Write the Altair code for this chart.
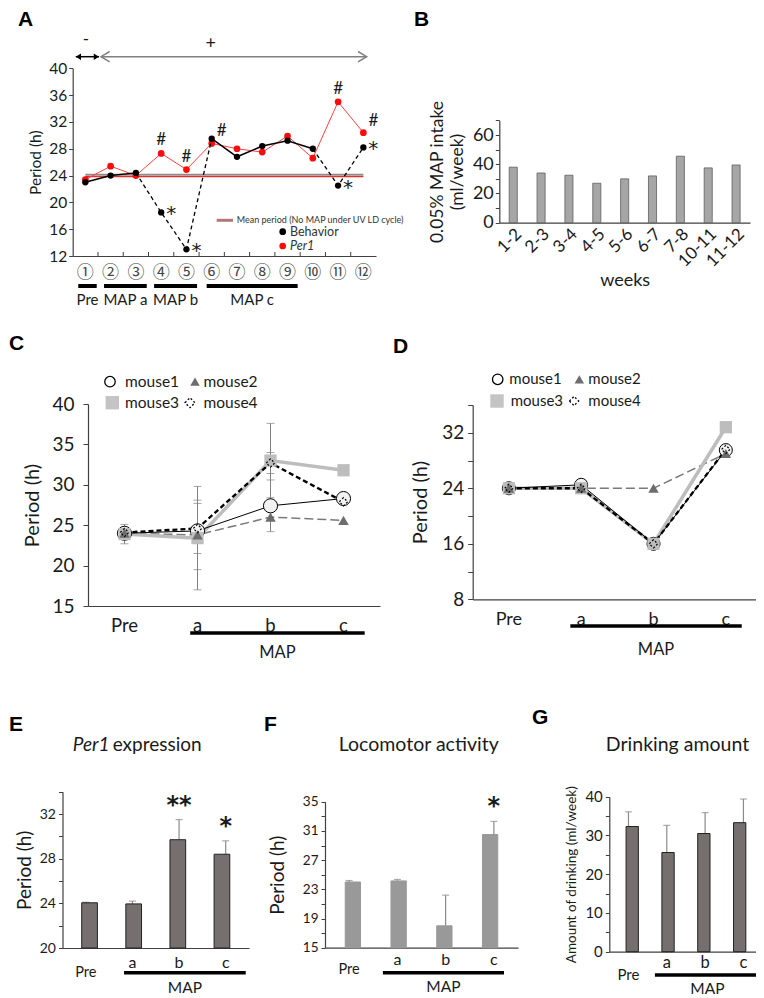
import altair as alt
import pandas as pd

W, H = 748, 990
FONT = "Lato"
INK = "#1a1a1a"

# ---------------- Panel A data ----------------
a_weeks = list(range(1, 13))
a_circled = ["①", "②", "③", "④", "⑤", "⑥", "⑦", "⑧", "⑨", "⑩", "⑪", "⑫"]
a_behavior = [23.0, 24.0, 24.4, 18.5, 13.0, 29.5, 26.8, 28.4, 29.2, 28.0, 22.5, 28.2]
a_per1 = [23.4, 25.4, 24.0, 27.3, 24.9, 28.8, 28.0, 27.5, 29.9, 26.6, 35.0, 30.4]
a_mean_period = 24.0
a_groups = ["Pre", "MAP a", "MAP b", "MAP c"]
a_group_from = [0.72, 1.74, 3.72, 5.80]
a_group_to = [1.45, 3.43, 5.42, 9.40]
a_hash_top = [4, 5, 11]
a_hash_side = [6, 12]
a_star = [4, 5, 11, 12]
a_solid_segments = [(1, 3), (6, 10)]
a_dashed_segments = [(3, 6), (10, 12)]

# ---------------- Panel B data ----------------
b_weeks = ["1-2", "2-3", "3-4", "4-5", "5-6", "6-7", "7-8", "10-11", "11-12"]
b_intake = [38.0, 34.0, 32.5, 27.0, 30.0, 32.0, 45.5, 37.5, 39.5]

# ---------------- Panels C / D data ----------------
stages = ["Pre", "a", "b", "c"]
mice = ["mouse1", "mouse2", "mouse3", "mouse4"]
c_mouse1 = [24.0, 24.3, 27.4, 28.3]
c_mouse2 = [24.0, 23.8, 26.0, 25.6]
c_mouse3 = [23.9, 23.4, 33.0, 31.8]
c_mouse4 = [24.1, 24.6, 32.7, 27.9]
c_err1 = [0.0, 0.0, 3.2, 0.0]
c_err2 = [0.0, 4.3, 0.0, 0.0]
c_err3 = [1.2, 6.4, 4.6, 0.0]
c_err4 = [0.0, 3.1, 1.3, 0.0]

d_mouse1 = [24.0, 24.5, 16.0, 29.5]
d_mouse2 = [24.0, 24.0, 24.0, 29.0]
d_mouse3 = [24.0, 24.0, 16.0, 32.8]
d_mouse4 = [24.0, 24.0, 16.0, 29.6]

# ---------------- Panels E / F / G data ----------------
e_mean = [24.05, 23.95, 29.7, 28.4]
e_err = [0.05, 0.25, 1.8, 1.2]
e_sig = ["", "", "**", "*"]
f_mean = [24.0, 24.15, 18.0, 30.5]
f_err = [0.2, 0.2, 4.2, 1.8]
f_sig = ["", "", "", "*"]
g_mean = [32.3, 25.6, 30.5, 33.3]
g_err = [3.8, 7.0, 5.4, 6.1]
g_sig = ["", "", "", ""]


# ---------------- helpers ----------------
def sc(dom, rng):
    return alt.Scale(domain=dom, range=rng, zero=False, nice=False)


def yaxis(xpos, values, size, title, tsize, every=None, base=0, tick=4, lpad=3, tpad=6):
    kw = dict(orient="left", offset=-xpos, values=values, labelFontSize=size,
              title=title, titleFontSize=tsize, tickSize=tick, labelPadding=lpad,
              titlePadding=tpad, labelOverlap=False)
    if every:
        kw["labelExpr"] = f"(datum.value - {base}) % {every} == 0 ? datum.label : ''"
    return alt.Axis(**kw)


def xaxis(ypos):
    return alt.Axis(orient="bottom", offset=ypos - H, ticks=False, labels=False, title=None)


one = pd.DataFrame({"k": [0]})


def label(s, x, y, size, **kw):
    kw.setdefault("font", FONT)
    kw.setdefault("color", INK)
    return alt.Chart(one).mark_text(text=s, fontSize=size, **kw).encode(
        x=alt.value(x), y=alt.value(y))


layers = []

# ======================= Panel A =======================
sxA = sc([0.5, 12.5], [64.7, 368])
syA = sc([12, 40], [248, 60.3])
dfA = pd.DataFrame({"wk": a_weeks, "beh": a_behavior, "per1": a_per1, "num": a_circled})


def xA(f="wk"):
    return alt.X(f"{f}:Q", scale=sxA, axis=None)


def yA(f):
    return alt.Y(f"{f}:Q", scale=syA, axis=None)


tickA = pd.DataFrame({"t": [w + 0.5 for w in a_weeks[:-1]], "y0": [12.0] * 11})
layers.append(alt.Chart(tickA).mark_rule(color="#404040").encode(
    x=alt.X("t:Q", scale=sxA, axis=xaxis(248)),
    y=alt.Y("y0:Q", scale=syA,
            axis=yaxis(64.7, list(range(12, 41, 4)), 15.5, "Period (h)", 15.5, lpad=2, tpad=5)),
    y2=alt.datum(12.6)))

meanA = pd.DataFrame({"x1": [1], "x2": [12], "m": [a_mean_period]})
layers.append(alt.Chart(meanA).mark_rule(color="#8c8c8c", strokeWidth=1.6, yOffset=-0.9).encode(
    x=alt.X("x1:Q", scale=sxA, axis=None), x2="x2:Q", y=yA("m")))
layers.append(alt.Chart(meanA).mark_rule(color="#e0302a", strokeWidth=1.6, yOffset=0.9).encode(
    x=alt.X("x1:Q", scale=sxA, axis=None), x2="x2:Q", y=yA("m")))

layers.append(alt.Chart(dfA).mark_line(color="#ff4040", strokeWidth=1).encode(x=xA(), y=yA("per1")))
layers.append(alt.Chart(dfA).mark_circle(color="#ff0a0a", size=45, opacity=1).encode(x=xA(), y=yA("per1")))


def seg_rows(segs):
    rows = []
    for k, (s, e) in enumerate(segs):
        for w in range(s, e + 1):
            rows.append({"seg": k, "wk": w, "beh": a_behavior[w - 1]})
    return pd.DataFrame(rows)


layers.append(alt.Chart(seg_rows(a_solid_segments)).mark_line(color="black", strokeWidth=1.5).encode(
    x=xA(), y=yA("beh"), detail="seg:N"))
layers.append(alt.Chart(seg_rows(a_dashed_segments)).mark_line(
    color="black", strokeWidth=1.3, strokeDash=[4, 3]).encode(x=xA(), y=yA("beh"), detail="seg:N"))
layers.append(alt.Chart(dfA).mark_circle(color="black", size=40, opacity=1).encode(x=xA(), y=yA("beh")))

layers.append(alt.Chart(dfA[dfA.wk.isin(a_hash_top)]).mark_text(
    text="#", fontSize=17, dy=-13, font=FONT, color=INK).encode(x=xA(), y=yA("per1")))
layers.append(alt.Chart(dfA[dfA.wk.isin(a_hash_side)]).mark_text(
    text="#", fontSize=17, dx=10, dy=-12, font=FONT, color=INK).encode(x=xA(), y=yA("per1")))
layers.append(alt.Chart(dfA[dfA.wk.isin(a_star)]).mark_text(
    text="*", fontSize=20, dx=10, dy=2, font="DejaVu Sans", color=INK).encode(x=xA(), y=yA("beh")))

layers.append(alt.Chart(dfA).mark_text(font="Noto Sans CJK JP", fontSize=17, color="#444").encode(
    x=xA(), y=alt.value(265.3), text="num:N"))

dfGrp = pd.DataFrame({"g": a_groups, "s": a_group_from, "e": a_group_to})
layers.append(alt.Chart(dfGrp).mark_rule(color="black", strokeWidth=4).encode(
    x=alt.X("s:Q", scale=sxA, axis=None), x2="e:Q", y=alt.value(278)))
layers.append(alt.Chart(dfGrp).transform_calculate(mid="(datum.s + datum.e) / 2").mark_text(
    fontSize=15, font=FONT, color=INK).encode(
    x=alt.X("mid:Q", scale=sxA, axis=None), y=alt.value(292), text="g:N"))

# arrows above panel A
arrow_minus = pd.DataFrame({"s": [0.62], "e": [1.54]})
arrow_plus = pd.DataFrame({"s": [1.62], "e": [12.13]})
ARROW_Y = 48.7
layers.append(alt.Chart(arrow_minus).mark_rule(color="black", strokeWidth=1.5).encode(
    x=alt.X("s:Q", scale=sxA, axis=None), x2="e:Q", y=alt.value(ARROW_Y)))
layers.append(alt.Chart(arrow_minus).mark_point(
    shape="M0,0L1,-0.62L1,0.62Z", filled=True, color="black", size=110, opacity=1).encode(
    x=alt.X("s:Q", scale=sxA, axis=None), y=alt.value(ARROW_Y)))
layers.append(alt.Chart(arrow_minus).mark_point(
    shape="M0,0L-1,-0.62L-1,0.62Z", filled=True, color="black", size=110, opacity=1).encode(
    x=alt.X("e:Q", scale=sxA, axis=None), y=alt.value(ARROW_Y)))
layers.append(alt.Chart(arrow_plus).mark_rule(color="#808080", strokeWidth=1.5).encode(
    x=alt.X("s:Q", scale=sxA, axis=None), x2="e:Q", y=alt.value(ARROW_Y)))
layers.append(alt.Chart(arrow_plus).mark_point(
    shape="M1,-0.6L0,0L1,0.6", filled=False, color="#808080", strokeWidth=1.5, size=300, opacity=1).encode(
    x=alt.X("s:Q", scale=sxA, axis=None), y=alt.value(ARROW_Y)))
layers.append(alt.Chart(arrow_plus).mark_point(
    shape="M-1,-0.6L0,0L-1,0.6", filled=False, color="#808080", strokeWidth=1.5, size=300, opacity=1).encode(
    x=alt.X("e:Q", scale=sxA, axis=None), y=alt.value(ARROW_Y)))
layers.append(label("-", 78, 32, 17))
layers.append(label("+", 202.7, 35.7, 18))

# legend of A
layers.append(alt.Chart(one).mark_rule(color="#b07878", strokeWidth=3).encode(
    x=alt.value(208.7), x2=alt.value(225), y=alt.value(212.3)))
layers.append(label("Mean period (No MAP under UV LD cycle)", 228.7, 212.3, 9, align="left", color="#333"))
layers.append(alt.Chart(one).mark_circle(color="black", size=45, opacity=1).encode(
    x=alt.value(274.7), y=alt.value(223.7)))
layers.append(label("Behavior", 282, 223.7, 12.5, align="left", color="#333"))
layers.append(alt.Chart(one).mark_circle(color="#ff0a0a", size=45, opacity=1).encode(
    x=alt.value(274.7), y=alt.value(238)))
layers.append(label("Per1", 282, 238, 12.5, align="left", fontStyle="italic", color="#333"))

# ======================= Panel B =======================
sxB = alt.Scale(type="band", domain=b_weeks, range=[491.3, 742], paddingInner=0.71, paddingOuter=0.355)
syB = sc([0, 70], [214.7, 112.4])
dfB = pd.DataFrame({"wk": b_weeks, "v": b_intake})
layers.append(alt.Chart(dfB).mark_bar(color="#a6a6a6", stroke="#5e5e5e", strokeWidth=0.8).encode(
    x=alt.X("wk:N", scale=sxB, sort=b_weeks,
            axis=alt.Axis(orient="bottom", offset=214.7 - H, labelAngle=315, labelFontSize=17,
                          ticks=False, title="weeks", titleFontSize=18, titlePadding=2,
                          labelPadding=3)),
    y=alt.Y("v:Q", scale=syB,
            axis=yaxis(491.3, list(range(0, 71, 10)), 18, ["0.05% MAP intake", "(ml/week)"], 17.5,
                       every=20, lpad=2, tpad=6)),
    y2=alt.datum(0)))


# ======================= Panels C / D =======================
def mice_panel(vals, errs, sx, sy, yax, xpos_axis_y, circle_size, show_err, legend_pos,
               lab_y, lab_size, under, under_y, map_y, map_size, leg_size, dia_size):
    out = []
    rows = []
    for m, vs, es in zip(mice, vals, errs):
        for i, (v, e) in enumerate(zip(vs, es)):
            rows.append({"mouse": m, "i": i, "st": stages[i], "v": v, "e": e,
                         "lo": v - e, "hi": v + e})
    df = pd.DataFrame(rows)

    def X(f="i"):
        return alt.X(f"{f}:Q", scale=sx, axis=None)

    def Y(f="v"):
        return alt.Y(f"{f}:Q", scale=sy, axis=None)

    # axis carrier (invisible)
    out.append(alt.Chart(df).mark_point(opacity=0).encode(
        x=alt.X("i:Q", scale=sx, axis=xaxis(xpos_axis_y)),
        y=alt.Y("v:Q", scale=sy, axis=yax)))
    if show_err:
        de = df[df.e > 0]
        out.append(alt.Chart(de).mark_rule(color="#808080", strokeWidth=1).encode(
            x=X(), y=Y("lo"), y2="hi:Q"))
        out.append(alt.Chart(de).mark_tick(orient="horizontal", color="#808080", size=8, thickness=1).encode(
            x=X(), y=Y("lo")))
        out.append(alt.Chart(de).mark_tick(orient="horizontal", color="#808080", size=8, thickness=1).encode(
            x=X(), y=Y("hi")))
    styles = {
        "mouse2": dict(color="#7a7a7a", strokeWidth=1.5, strokeDash=[9, 4]),
        "mouse3": dict(color="#bdbdbd", strokeWidth=3.5),
        "mouse1": dict(color="black", strokeWidth=1),
        "mouse4": dict(color="black", strokeWidth=2.3, strokeDash=[5, 3]),
    }
    for m in ["mouse2", "mouse3", "mouse1", "mouse4"]:
        out.append(alt.Chart(df[df.mouse == m]).mark_line(**styles[m]).encode(x=X(), y=Y()))
    out.append(alt.Chart(df[df.mouse == "mouse1"]).mark_point(
        shape="circle", filled=True, fill="#f2f2f2", stroke="black", strokeWidth=1,
        size=circle_size, opacity=1).encode(x=X(), y=Y()))
    out.append(alt.Chart(df[df.mouse == "mouse3"]).mark_point(
        shape="square", filled=True, color="#bdbdbd", size=150, opacity=1).encode(x=X(), y=Y()))
    out.append(alt.Chart(df[df.mouse == "mouse2"]).mark_point(
        shape="triangle-up", filled=True, color="#6d6d6d", size=110, opacity=1).encode(x=X(), y=Y()))
    out.append(alt.Chart(df[df.mouse == "mouse4"]).mark_point(
        shape="diamond", filled=False, color="black", strokeWidth=1.2, strokeDash=[2, 2],
        size=70, opacity=1).encode(x=X(), y=Y()))

    # x labels + MAP underline
    dl = pd.DataFrame({"i": list(range(4)), "st": stages})
    out.append(alt.Chart(dl).mark_text(fontSize=lab_size, font=FONT, color=INK).encode(
        x=X(), y=alt.value(lab_y), text="st:N"))
    du = pd.DataFrame({"s": [under[0]], "e": [under[1]], "t": ["MAP"]})
    out.append(alt.Chart(du).mark_rule(color="black", strokeWidth=3.5).encode(
        x=X("s"), x2="e:Q", y=alt.value(under_y)))
    out.append(alt.Chart(du).transform_calculate(mid="(datum.s + datum.e) / 2").mark_text(
        fontSize=map_size, font=FONT, color=INK).encode(x=X("mid"), y=alt.value(map_y), text="t:N"))

    # manual legend
    (c_xy, c_t), (t_xy, t_t), (s_xy, s_t), (d_xy, d_t) = legend_pos
    out.append(alt.Chart(one).mark_point(shape="circle", filled=False, color="black", strokeWidth=1.3,
                                         size=110, opacity=1).encode(x=alt.value(c_xy[0]), y=alt.value(c_xy[1])))
    out.append(alt.Chart(one).mark_point(shape="triangle-up", filled=True, color="#6d6d6d",
                                         size=90, opacity=1).encode(x=alt.value(t_xy[0]), y=alt.value(t_xy[1])))
    out.append(alt.Chart(one).mark_point(shape="square", filled=True, color="#c4c4c4",
                                         size=180, opacity=1).encode(x=alt.value(s_xy[0]), y=alt.value(s_xy[1])))
    out.append(alt.Chart(one).mark_point(shape="diamond", filled=False, color="black", strokeWidth=1.3,
                                         strokeDash=[2, 2], size=dia_size, opacity=1).encode(
        x=alt.value(d_xy[0]), y=alt.value(d_xy[1])))
    for name, (tx, ty) in zip(mice, [c_t, t_t, s_t, d_t]):
        out.append(label(name, tx, ty, leg_size, align="left"))
    return out


sxC = sc([-0.5, 3.5], [80, 372])
syC = sc([15, 40], [598, 396])
layers += mice_panel(
    [c_mouse1, c_mouse2, c_mouse3, c_mouse4], [c_err1, c_err2, c_err3, c_err4], sxC, syC,
    yaxis(80, list(range(15, 41, 5)), 19, "Period (h)", 20, tick=5, lpad=9, tpad=9),
    598, 200, True,
    [((102, 373.7), (117, 373.7)), ((187, 373.7), (195.5, 373.7)),
     ((104.3, 394.7), (117, 394.7)), ((182, 394.7), (195.5, 394.7))],
    618, 18.5, (0.90, 3.29), 625, 645, 16.5, 15.5, 100)

sxD = sc([-0.5, 3.5], [464.7, 754])
syD = sc([8, 36], [591.3, 397])
zeros = [0.0, 0.0, 0.0, 0.0]
layers += mice_panel(
    [d_mouse1, d_mouse2, d_mouse3, d_mouse4], [zeros] * 4, sxD, syD,
    yaxis(464.7, list(range(8, 37, 4)), 19, "Period (h)", 20, every=8, tick=5, lpad=4, tpad=11),
    591.3, 170, False,
    [((489.7, 371.3), (501.3, 371.3)), ((571.3, 371.3), (580.3, 371.3)),
     ((489, 393), (502.7, 393)), ((566, 393), (580.3, 393))],
    612, 18, (0.85, 3.22), 618, 642, 16.5, 15, 85)


# ======================= Panels E / F / G =======================
def bar_panel(means, errs, sigs, sx, sy, ybase, yax, axis_y, bar_w, fill, stroke, sig_size,
              abc_y, pre_y, lab_size, under, under_y, map_y):
    out = []
    df = pd.DataFrame({"i": list(range(4)), "st": stages, "m": means,
                       "hi": [m + e for m, e in zip(means, errs)], "sig": sigs})

    def X(f="i"):
        return alt.X(f"{f}:Q", scale=sx, axis=None)

    out.append(alt.Chart(df).mark_rule(color="#8a8a8a", strokeWidth=1.2).encode(
        x=X(), y=alt.Y("m:Q", scale=sy, axis=None), y2="hi:Q"))
    out.append(alt.Chart(df).mark_tick(orient="horizontal", color="#8a8a8a", size=7, thickness=1.2).encode(
        x=X(), y=alt.Y("hi:Q", scale=sy, axis=None)))
    out.append(alt.Chart(df).mark_bar(size=bar_w, color=fill, stroke=stroke, strokeWidth=1).encode(
        x=alt.X("i:Q", scale=sx, axis=xaxis(axis_y)),
        y=alt.Y("m:Q", scale=sy, axis=yax), y2=alt.datum(ybase)))
    out.append(alt.Chart(df[df.sig != ""]).mark_text(
        fontSize=sig_size, font="DejaVu Sans", fontWeight="bold", dy=-14, color=INK).encode(
        x=X(), y=alt.Y("hi:Q", scale=sy, axis=None), text="sig:N"))
    out.append(alt.Chart(df[df.i > 0]).mark_text(fontSize=lab_size + 1.5, font=FONT, color=INK).encode(
        x=X(), y=alt.value(abc_y), text="st:N"))
    out.append(alt.Chart(df[df.i == 0]).mark_text(fontSize=lab_size, font=FONT, color=INK).encode(
        x=X(), y=alt.value(pre_y), text="st:N"))
    du = pd.DataFrame({"s": [under[0]], "e": [under[1]], "t": ["MAP"]})
    out.append(alt.Chart(du).mark_rule(color="black", strokeWidth=3.5).encode(
        x=X("s"), x2="e:Q", y=alt.value(under_y)))
    out.append(alt.Chart(du).transform_calculate(mid="(datum.s + datum.e) / 2").mark_text(
        fontSize=15.5, font=FONT, color=INK).encode(x=X("mid"), y=alt.value(map_y), text="t:N"))
    return out


sxE = sc([-0.5, 3.5], [54.5, 241])
syE = sc([20, 34], [940, 783.7])
layers += bar_panel(e_mean, e_err, e_sig, sxE, syE, 20,
                    yaxis(54.5, list(range(20, 35, 2)), 14, "Period (h)", 19, every=4, base=20,
                          tick=4, lpad=3, tpad=5),
                    940, 15.7, "#756f6f", "#222", 24, 955, 964.7, 14.5, (0.82, 3.43), 964.7, 979.5)

sxF = sc([-0.5, 3.5], [317, 510])
syF = sc([15, 35], [939.7, 793.7])
layers += bar_panel(f_mean, f_err, f_sig, sxF, syF, 15,
                    yaxis(317, list(range(15, 36, 2)), 13.5, "Period (h)", 19, every=4, base=15,
                          tick=4, lpad=3, tpad=15),
                    939.7, 15.3, "#999999", "#999999", 24, 952, 962, 14.5, (0.70, 3.21), 964.7, 979)

sxG = sc([-0.5, 3.5], [601.3, 754.6])
syG = sc([0, 40], [943.7, 788.7])
layers += bar_panel(g_mean, g_err, g_sig, sxG, syG, 0,
                    yaxis(601.3, list(range(0, 41, 5)), 15, "Amount of drinking (ml/week)", 13.5,
                          every=10, base=0, tick=4, lpad=3, tpad=6),
                    943.7, 12.3, "#756f6f", "#222", 24, 955.3, 967, 15, (0.69, 3.43), 967, 980.5)

# ---------------- titles & panel letters ----------------
layers.append(label("Per1", 64.7, 737, 19, align="left", fontStyle="italic"))
layers.append(label("expression", 104.7, 737, 19, align="left"))
layers.append(label("Locomotor activity", 410.7, 737, 19.5))
layers.append(label("Drinking amount", 669.5, 737, 19.5))

for letter, x, y in [("A", 10, 1), ("B", 406, 1), ("C", 1, 325), ("D", 385, 328),
                     ("E", 1, 706), ("F", 256, 706), ("G", 524, 699)]:
    layers.append(label(letter, x, y, 21, font="Liberation Sans", fontWeight="bold", color="black",
                        align="left", baseline="top"))

chart = alt.layer(*layers).resolve_scale(
    x="independent", y="independent").resolve_axis(
    x="independent", y="independent").properties(
    width=W, height=H, autosize=alt.AutoSizeParams(type="none"), padding=0
).configure_view(stroke=None).configure_axis(
    grid=False, domainColor="#404040", tickColor="#404040", labelColor=INK, titleColor=INK,
    labelFont=FONT, titleFont=FONT, titleFontWeight="normal", domainWidth=1.2
).configure_text(font=FONT)

chart.save("out.html", embed_options={"renderer": "svg", "actions": False})
